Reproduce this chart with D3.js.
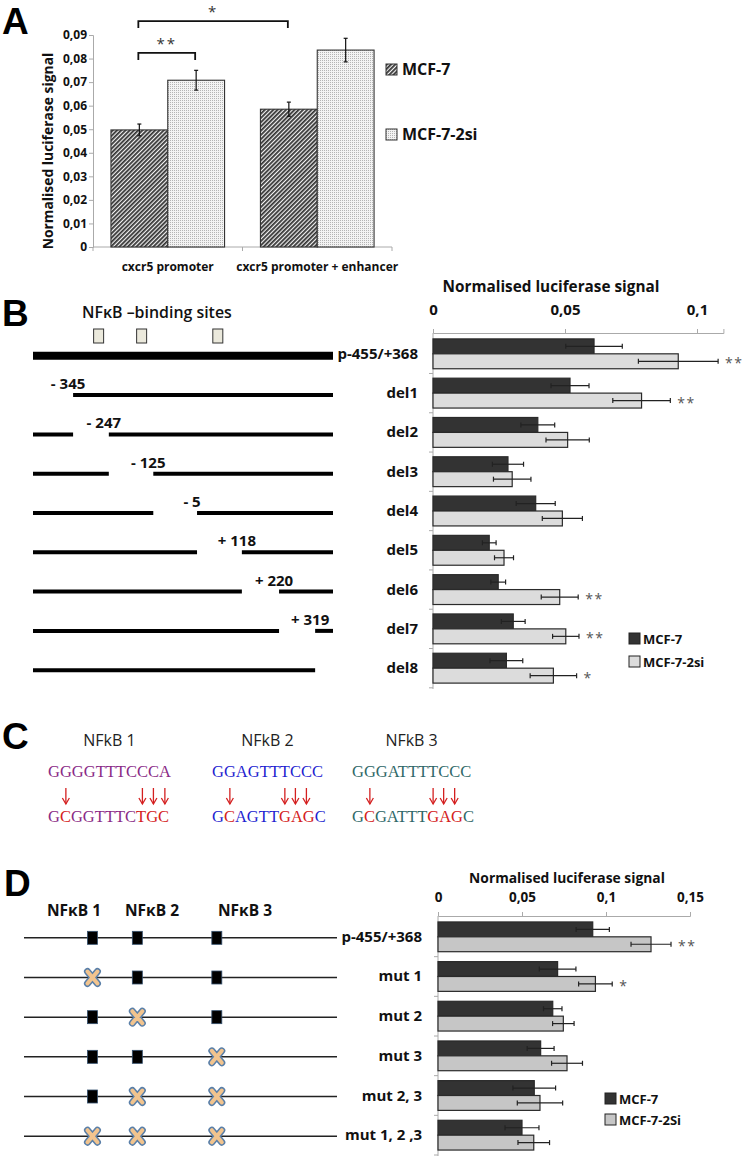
<!DOCTYPE html>
<html><head><meta charset="utf-8">
<script src="https://cdn.jsdelivr.net/npm/d3@7"></script>
<style>body{margin:0;background:#fff}</style>
</head><body><div id="chart"></div>
<script>
// ---------------- DATA ----------------
const seriesNames = ["MCF-7", "MCF-7-2si"];
const seriesNamesD = ["MCF-7", "MCF-7-2Si"];

// Panel A
const catsA = ["cxcr5 promoter", "cxcr5 promoter + enhancer"];
const mcf7A = [0.0497, 0.0585];
const mcf7AErr = [0.0025, 0.0030];
const si2A = [0.0708, 0.0836];
const si2AErr = [0.0042, 0.0050];
const ticksA = [0, 0.01, 0.02, 0.03, 0.04, 0.05, 0.06, 0.07, 0.08, 0.09];
// brackets: from [cat, series] to [cat, series], top value, label
const bracketFrom = [[0, 0], [0, 0]];
const bracketTo = [[0, 1], [1, 0]];
const bracketTop = [0.0824, 0.0959];
const bracketLabel = ["**", "*"];

// Panel B
const catsB = ["p-455/+368", "del1", "del2", "del3", "del4", "del5", "del6", "del7", "del8"];
const mcf7B = [0.0610, 0.0519, 0.0397, 0.0284, 0.0389, 0.0213, 0.0247, 0.0304, 0.0278];
const mcf7BErr = [0.0107, 0.0072, 0.0064, 0.0059, 0.0074, 0.0026, 0.0028, 0.0045, 0.0062];
const si2B = [0.0929, 0.0790, 0.0510, 0.0300, 0.0490, 0.0269, 0.0480, 0.0503, 0.0456];
const si2BErr = [0.0151, 0.0109, 0.0082, 0.0071, 0.0076, 0.0036, 0.0070, 0.0050, 0.0088];
const sigB = ["**", "**", "", "", "", "", "**", "**", "*"];
const ticksB = [0, 0.05, 0.1];
// construct segments in nucleotide coordinates
const segmentsB = [
  [[-455, 368]],
  [[-345, 368]],
  [[-455, -345], [-247, 368]],
  [[-455, -247], [-125, 368]],
  [[-455, -125], [-5, 368]],
  [[-455, -5], [118, 368]],
  [[-455, 118], [220, 368]],
  [[-455, 220], [319, 368]],
  [[-455, 319]]
];
const delLabelPos = [null, -345, -247, -125, -5, 118, 220, 319, null];
const delLabels = ["", "- 345", "- 247", "- 125", "- 5", "+ 118", "+ 220", "+ 319", ""];
const sitesNt = [-275, -157, 52];

// Panel C
const seqTitles = ["NFkB 1", "NFkB 2", "NFkB 3"];
const seqWild = ["GGGGTTTCCCA", "GGAGTTTCCC", "GGGATTTTCCC"];
const seqMut = ["GCGGTTTCTGC", "GCAGTTGAGC", "GCGATTTGAGC"];
const seqColors = ["#8a2a86", "#1f1fd0", "#2f6868"];

// Panel D
const catsD = ["p-455/+368", "mut 1", "mut 2", "mut 3", "mut 2, 3", "mut 1, 2 ,3"];
const mcf7D = [0.0921, 0.0712, 0.0683, 0.0611, 0.0573, 0.0500];
const mcf7DErr = [0.0099, 0.0109, 0.0055, 0.0080, 0.0127, 0.0101];
const si2D = [0.1268, 0.0937, 0.0746, 0.0768, 0.0607, 0.0570];
const si2DErr = [0.0119, 0.0100, 0.0064, 0.0092, 0.0135, 0.0094];
const sigD = ["**", "*", "", "", "", ""];
const ticksD = [0, 0.05, 0.1, 0.15];
const mutatedSites = [[], [0], [1], [2], [1, 2], [0, 1, 2]];
const siteNamesD = ["NFκB 1", "NFκB 2", "NFκB 3"];

// ---------------- DRAW ----------------
const W = 744, H = 1161;
const FONT = "'Open Sans', 'DejaVu Sans', sans-serif";
const svg = d3.select("#chart").append("svg")
  .attr("width", W).attr("height", H)
  .style("font-family", FONT);
svg.append("rect").attr("width", W).attr("height", H).attr("fill", "#fff");

const defs = svg.append("defs");
const hatch = defs.append("pattern").attr("id", "hatch").attr("patternUnits", "userSpaceOnUse")
  .attr("width", 3).attr("height", 3).attr("patternTransform", "rotate(45)");
hatch.append("rect").attr("width", 3).attr("height", 3).attr("fill", "#f2f2f2");
hatch.append("line").attr("x1", 0.9).attr("y1", 0).attr("x2", 0.9).attr("y2", 3)
  .attr("stroke", "#2a2a2a").attr("stroke-width", 1.7);
const dots = defs.append("pattern").attr("id", "dots").attr("patternUnits", "userSpaceOnUse")
  .attr("width", 2).attr("height", 2);
dots.append("rect").attr("width", 2).attr("height", 2).attr("fill", "#f3f3f3");
dots.append("rect").attr("width", 1).attr("height", 1).attr("fill", "#b4b4b4");

const numFmt = d => d === 0 ? "0" : String(+d.toFixed(4)).replace(".", ",");

function fitWidth(sel, w) {
  sel.each(function () {
    const L = this.getComputedTextLength();
    const fs = parseFloat(this.getAttribute("font-size"));
    if (L > 0) this.setAttribute("font-size", fs * w / L);
  });
}

function panelLetter(t, x, y) {
  svg.append("text").attr("x", x).attr("y", y).text(t)
    .attr("font-family", "'Liberation Sans', Arial, sans-serif")
    .attr("font-size", 37).attr("font-weight", "bold").attr("fill", "#000");
}

// ===== Panel A =====
panelLetter("A", 2, 34);
const xA = d3.scaleBand().domain(catsA).range([93, 392]).paddingInner(0.24).paddingOuter(0.12);
const xA1 = d3.scaleBand().domain(seriesNames).range([0, xA.bandwidth()]);
const yA = d3.scaleLinear().domain([0, 0.09]).range([247, 35]);

const axA = svg.append("g").attr("transform", "translate(93,0)")
  .call(d3.axisLeft(yA).tickValues(ticksA).tickSize(4).tickPadding(2).tickFormat(numFmt));
axA.select(".domain").attr("stroke", "#aaa");
axA.selectAll(".tick line").attr("stroke", "#aaa");
axA.selectAll(".tick text").attr("font-size", 12).attr("font-weight", "bold")
  .attr("fill", "#111").attr("font-family", FONT);

// bottom axis line with boundary ticks
svg.append("line").attr("x1", 93).attr("x2", 392).attr("y1", yA(0)).attr("y2", yA(0)).attr("stroke", "#aaa");
const boundA = [xA.range()[0], (xA(catsA[0]) + xA.bandwidth() + xA(catsA[1])) / 2, xA.range()[1]];
svg.selectAll(".bA").data(boundA).join("line")
  .attr("x1", d => d).attr("x2", d => d).attr("y1", yA(0)).attr("y2", yA(0) + 4).attr("stroke", "#aaa");

const rowsA = catsA.map((c, i) => [
  { c, s: seriesNames[0], v: mcf7A[i], e: mcf7AErr[i], fill: "url(#hatch)" },
  { c, s: seriesNames[1], v: si2A[i], e: si2AErr[i], fill: "url(#dots)" }
]).flat();
svg.selectAll(".barA").data(rowsA).join("rect")
  .attr("x", d => xA(d.c) + xA1(d.s)).attr("width", xA1.bandwidth())
  .attr("y", d => yA(d.v)).attr("height", d => yA(0) - yA(d.v))
  .attr("fill", d => d.fill).attr("stroke", "#333").attr("stroke-width", 1.1);
const errA = svg.selectAll(".errA").data(rowsA).join("g");
errA.append("line").attr("x1", d => xA(d.c) + xA1(d.s) + xA1.bandwidth() / 2)
  .attr("x2", d => xA(d.c) + xA1(d.s) + xA1.bandwidth() / 2)
  .attr("y1", d => yA(d.v - d.e)).attr("y2", d => yA(d.v + d.e)).attr("stroke", "#111").attr("stroke-width", 1.2);
[-1, 1].forEach(sgn => {
  errA.append("line").attr("x1", d => xA(d.c) + xA1(d.s) + xA1.bandwidth() / 2 - 2)
    .attr("x2", d => xA(d.c) + xA1(d.s) + xA1.bandwidth() / 2 + 2)
    .attr("y1", d => yA(d.v + sgn * d.e)).attr("y2", d => yA(d.v + sgn * d.e))
    .attr("stroke", "#111").attr("stroke-width", 1.2);
});
svg.selectAll(".catA").data(catsA).join("text")
  .attr("x", d => xA(d) + xA.bandwidth() / 2).attr("y", 271).attr("text-anchor", "middle")
  .attr("font-size", 12).attr("font-weight", "bold").attr("fill", "#111").text(d => d);
const ytA = svg.append("text").attr("transform", "translate(53,151) rotate(-90)")
  .attr("text-anchor", "middle").attr("font-size", 14).attr("font-weight", "bold").attr("fill", "#111")
  .text("Normalised luciferase signal");
fitWidth(ytA, 197);

// brackets
bracketLabel.forEach((lab, i) => {
  const [ca, sa] = bracketFrom[i], [cb, sb] = bracketTo[i];
  const x1 = xA(catsA[ca]) + xA1(seriesNames[sa]) + xA1.bandwidth() / 2 - 1;
  const x2 = xA(catsA[cb]) + xA1(seriesNames[sb]) + xA1.bandwidth() / 2 - 1;
  const yt = yA(bracketTop[i]);
  svg.append("path").attr("d", `M${x1},${yt + 7} V${yt} H${x2} V${yt + 7}`)
    .attr("fill", "none").attr("stroke", "#111").attr("stroke-width", 1.8);
  svg.append("text").attr("x", (x1 + x2) / 2).attr("y", yt - 4).attr("text-anchor", "middle")
    .attr("font-size", 15).attr("fill", "#333").attr("letter-spacing", 2).text(lab);
});

// legend A
const legA = svg.selectAll(".legA").data(seriesNames).join("g")
  .attr("transform", (d, i) => `translate(386,${64 + i * 65})`);
legA.append("rect").attr("width", 11).attr("height", 11)
  .attr("fill", (d, i) => i === 0 ? "url(#hatch)" : "url(#dots)").attr("stroke", "#333");
legA.append("text").attr("x", 16).attr("y", 11).attr("font-size", 16).attr("font-weight", "bold")
  .attr("fill", "#111").text(d => d);

// ===== Panel B =====
panelLetter("B", 2, 326);
const xB = d3.scaleLinear().domain([0, 0.11]).range([433, 723.4]);
const yB = d3.scaleBand().domain(catsB).range([333, 689]).paddingInner(0.24).paddingOuter(0.15);
const yB1 = d3.scaleBand().domain(seriesNames).range([0, yB.bandwidth()]);
const ntB = d3.scaleLinear().domain([-455, 368]).range([33, 333]);

const axB = svg.append("g").attr("transform", "translate(0,333)")
  .call(d3.axisTop(xB).tickValues(ticksB).tickSize(4).tickPadding(14).tickFormat(numFmt));
axB.select(".domain").attr("stroke", "#aaa");
axB.selectAll(".tick line").attr("stroke", "#aaa");
axB.selectAll(".tick text").attr("font-size", 15).attr("font-weight", "bold").attr("fill", "#111").attr("font-family", FONT);
const titB = svg.append("text").attr("x", 551).attr("y", 292).attr("text-anchor", "middle")
  .attr("font-size", 14).attr("font-weight", "bold").attr("fill", "#111").text("Normalised luciferase signal");
fitWidth(titB, 217);

svg.append("line").attr("x1", xB(0)).attr("x2", xB(0)).attr("y1", 333).attr("y2", 689).attr("stroke", "#aaa");
const bndB = catsB.map(c => yB(c) + yB.bandwidth() + yB.step() * yB.paddingInner() / 2);
svg.selectAll(".tkB").data(bndB).join("line").attr("x1", xB(0) - 4).attr("x2", xB(0))
  .attr("y1", d => d).attr("y2", d => d).attr("stroke", "#aaa");

function hbars(cats, yS, yS1, xS, sNames, m, mE, s, sE, sig, lightFill, cls) {
  const rows = cats.map((c, i) => [
    { c, s: sNames[0], v: m[i], e: mE[i], fill: "#333333", sig: "" },
    { c, s: sNames[1], v: s[i], e: sE[i], fill: lightFill, sig: sig[i] }
  ]).flat();
  svg.selectAll("." + cls).data(rows).join("rect")
    .attr("y", d => yS(d.c) + yS1(d.s)).attr("height", yS1.bandwidth())
    .attr("x", xS(0)).attr("width", d => xS(d.v) - xS(0))
    .attr("fill", d => d.fill).attr("stroke", "#2a2a2a").attr("stroke-width", 1.2);
  const g = svg.selectAll(".e" + cls).data(rows).join("g");
  const cy = d => yS(d.c) + yS1(d.s) + yS1.bandwidth() / 2;
  g.append("line").attr("x1", d => xS(d.v - d.e)).attr("x2", d => xS(d.v + d.e))
    .attr("y1", cy).attr("y2", cy).attr("stroke", "#222").attr("stroke-width", 1.2);
  [-1, 1].forEach(sgn => {
    g.append("line").attr("x1", d => xS(d.v + sgn * d.e)).attr("x2", d => xS(d.v + sgn * d.e))
      .attr("y1", d => cy(d) - 2.5).attr("y2", d => cy(d) + 2.5).attr("stroke", "#222").attr("stroke-width", 1.2);
  });
  g.append("text").attr("x", d => xS(d.v + d.e) + 7).attr("y", d => cy(d) + 7)
    .attr("font-size", 14).attr("fill", "#555").attr("letter-spacing", 1.5).text(d => d.sig);
}
hbars(catsB, yB, yB1, xB, seriesNames, mcf7B, mcf7BErr, si2B, si2BErr, sigB, "#dcdcdc", "bB");

svg.selectAll(".labB").data(catsB).join("text")
  .attr("x", 418).attr("y", d => yB(d) + yB.bandwidth() / 2 + 5).attr("text-anchor", "end")
  .attr("font-size", 15).attr("font-weight", "bold").attr("fill", "#111").text(d => d);

// legend B
const legB = svg.selectAll(".legB").data(seriesNames).join("g")
  .attr("transform", (d, i) => `translate(629,${633 + i * 23})`);
legB.append("rect").attr("width", 11).attr("height", 11)
  .attr("fill", (d, i) => i === 0 ? "#333" : "#dcdcdc").attr("stroke", "#222");
legB.append("text").attr("x", 14).attr("y", 11).attr("font-size", 13).attr("font-weight", "bold")
  .attr("fill", "#111").text(d => d);

// schematic B
const bsTitle = svg.append("text").attr("x", 82).attr("y", 318).attr("font-size", 15).attr("font-weight", 600)
  .attr("fill", "#111").text("NFκB –binding sites");
fitWidth(bsTitle, 150);
svg.selectAll(".siteB").data(sitesNt).join("rect")
  .attr("x", d => ntB(d) - 5).attr("y", 329).attr("width", 10).attr("height", 14)
  .attr("fill", "#ebe9dc").attr("stroke", "#333").attr("stroke-width", 1);
segmentsB.forEach((segs, i) => {
  const yy = yB(catsB[i]) + yB.bandwidth() / 2 + 2;
  segs.forEach(sg => {
    svg.append("line").attr("x1", ntB(sg[0])).attr("x2", ntB(sg[1]))
      .attr("y1", yy).attr("y2", yy).attr("stroke", "#000").attr("stroke-width", i === 0 ? 8 : 4);
  });
  if (delLabelPos[i] !== null) {
    svg.append("text").attr("x", ntB(delLabelPos[i]) - 5).attr("y", yy - 6).attr("text-anchor", "middle")
      .attr("font-size", 15).attr("font-weight", "bold").attr("fill", "#111").text(delLabels[i]);
  }
});

// ===== Panel C =====
panelLetter("C", 2, 749);
const seqX = [48, 212, 352];
seqWild.forEach((w, k) => {
  const m = seqMut[k];
  const t1 = svg.append("text").attr("x", seqX[k]).attr("y", 777)
    .attr("font-family", "'Liberation Serif', serif").attr("font-size", 16.5).attr("fill", seqColors[k]).text(w);
  const t2 = svg.append("text").attr("x", seqX[k]).attr("y", 822)
    .attr("font-family", "'Liberation Serif', serif").attr("font-size", 16.5);
  m.split("").forEach((ch, j) => {
    t2.append("tspan").attr("fill", ch !== w[j] ? "#d42020" : seqColors[k]).text(ch);
  });
  const node = t1.node();
  const len = node.getComputedTextLength();
  svg.append("text").attr("x", seqX[k] + len / 2).attr("y", 746).attr("text-anchor", "middle")
    .attr("font-size", 16).attr("fill", "#222").text(seqTitles[k]);
  m.split("").forEach((ch, j) => {
    if (ch !== w[j]) {
      const ext = node.getExtentOfChar(j);
      const cx = ext.x + ext.width / 2;
      svg.append("line").attr("x1", cx).attr("x2", cx).attr("y1", 788).attr("y2", 804)
        .attr("stroke", "#d42020").attr("stroke-width", 1.3);
      svg.append("path").attr("d", `M${cx - 3.5},${798} L${cx},${804} L${cx + 3.5},${798}`)
        .attr("fill", "none").attr("stroke", "#d42020").attr("stroke-width", 1.3);
    }
  });
});

// ===== Panel D =====
panelLetter("D", 4, 896);
const xD = d3.scaleLinear().domain([0, 0.15]).range([438, 690]);
const yD = d3.scaleBand().domain(catsD).range([916, 1156]).paddingInner(0.25).paddingOuter(0.15);
const yD1 = d3.scaleBand().domain(seriesNamesD).range([0, yD.bandwidth()]);
const ntD = d3.scaleLinear().domain([-455, 368]).range([24, 337]);

const axD = svg.append("g").attr("transform", "translate(0,916)")
  .call(d3.axisTop(xD).tickValues(ticksD).tickSize(4).tickPadding(10).tickFormat(numFmt));
axD.select(".domain").attr("stroke", "#aaa");
axD.selectAll(".tick line").attr("stroke", "#aaa");
axD.selectAll(".tick text").attr("font-size", 13.5).attr("font-weight", "bold").attr("fill", "#111").attr("font-family", FONT);
const titD = svg.append("text").attr("x", 567).attr("y", 883).attr("text-anchor", "middle")
  .attr("font-size", 13).attr("font-weight", "bold").attr("fill", "#111").text("Normalised luciferase signal");
fitWidth(titD, 196);
svg.append("line").attr("x1", xD(0)).attr("x2", xD(0)).attr("y1", 916).attr("y2", 1156).attr("stroke", "#aaa");
const bndD = catsD.map(c => yD(c) + yD.bandwidth() + yD.step() * yD.paddingInner() / 2);
svg.selectAll(".tkD").data(bndD).join("line").attr("x1", xD(0) - 4).attr("x2", xD(0))
  .attr("y1", d => d).attr("y2", d => d).attr("stroke", "#aaa");

hbars(catsD, yD, yD1, xD, seriesNamesD, mcf7D, mcf7DErr, si2D, si2DErr, sigD, "#c6c6c6", "bD");
svg.selectAll(".labD").data(catsD).join("text")
  .attr("x", 422).attr("y", d => yD(d) + yD.bandwidth() / 2 + 5).attr("text-anchor", "end")
  .attr("font-size", 15).attr("font-weight", "bold").attr("fill", "#111").text(d => d);

const legD = svg.selectAll(".legD").data(seriesNamesD).join("g")
  .attr("transform", (d, i) => `translate(605,${1093 + i * 21})`);
legD.append("rect").attr("width", 11).attr("height", 11)
  .attr("fill", (d, i) => i === 0 ? "#333" : "#c6c6c6").attr("stroke", "#222");
legD.append("text").attr("x", 14).attr("y", 11).attr("font-size", 13).attr("font-weight", "bold")
  .attr("fill", "#111").text(d => d);

// schematic D
const hdrX = [47, 125, 218];
siteNamesD.forEach((n, k) => {
  svg.append("text").attr("x", hdrX[k]).attr("y", 916).attr("font-size", 15.5).attr("font-weight", "bold")
    .attr("fill", "#111").text(n);
});
catsD.forEach((c, i) => {
  const yy = yD(c) + yD.bandwidth() / 2 + 1;
  svg.append("line").attr("x1", ntD(-455)).attr("x2", ntD(368)).attr("y1", yy).attr("y2", yy)
    .attr("stroke", "#222").attr("stroke-width", 1.5);
  sitesNt.forEach((s, k) => {
    const cx = ntD(s);
    if (mutatedSites[i].includes(k)) {
      const p = `M${cx - 5},${yy - 6} L${cx + 5},${yy + 6} M${cx + 5},${yy - 6} L${cx - 5},${yy + 6}`;
      svg.append("path").attr("d", p).attr("stroke", "#5a7fa8").attr("stroke-width", 7)
        .attr("stroke-linecap", "round").attr("fill", "none");
      svg.append("path").attr("d", p).attr("stroke", "#f2c48e").attr("stroke-width", 4)
        .attr("stroke-linecap", "round").attr("fill", "none");
    } else {
      svg.append("rect").attr("x", cx - 5).attr("y", yy - 6.5).attr("width", 10).attr("height", 13)
        .attr("fill", "#000").attr("stroke", "#34506e").attr("stroke-width", 0.8);
    }
  });
});
</script>
</body></html>
